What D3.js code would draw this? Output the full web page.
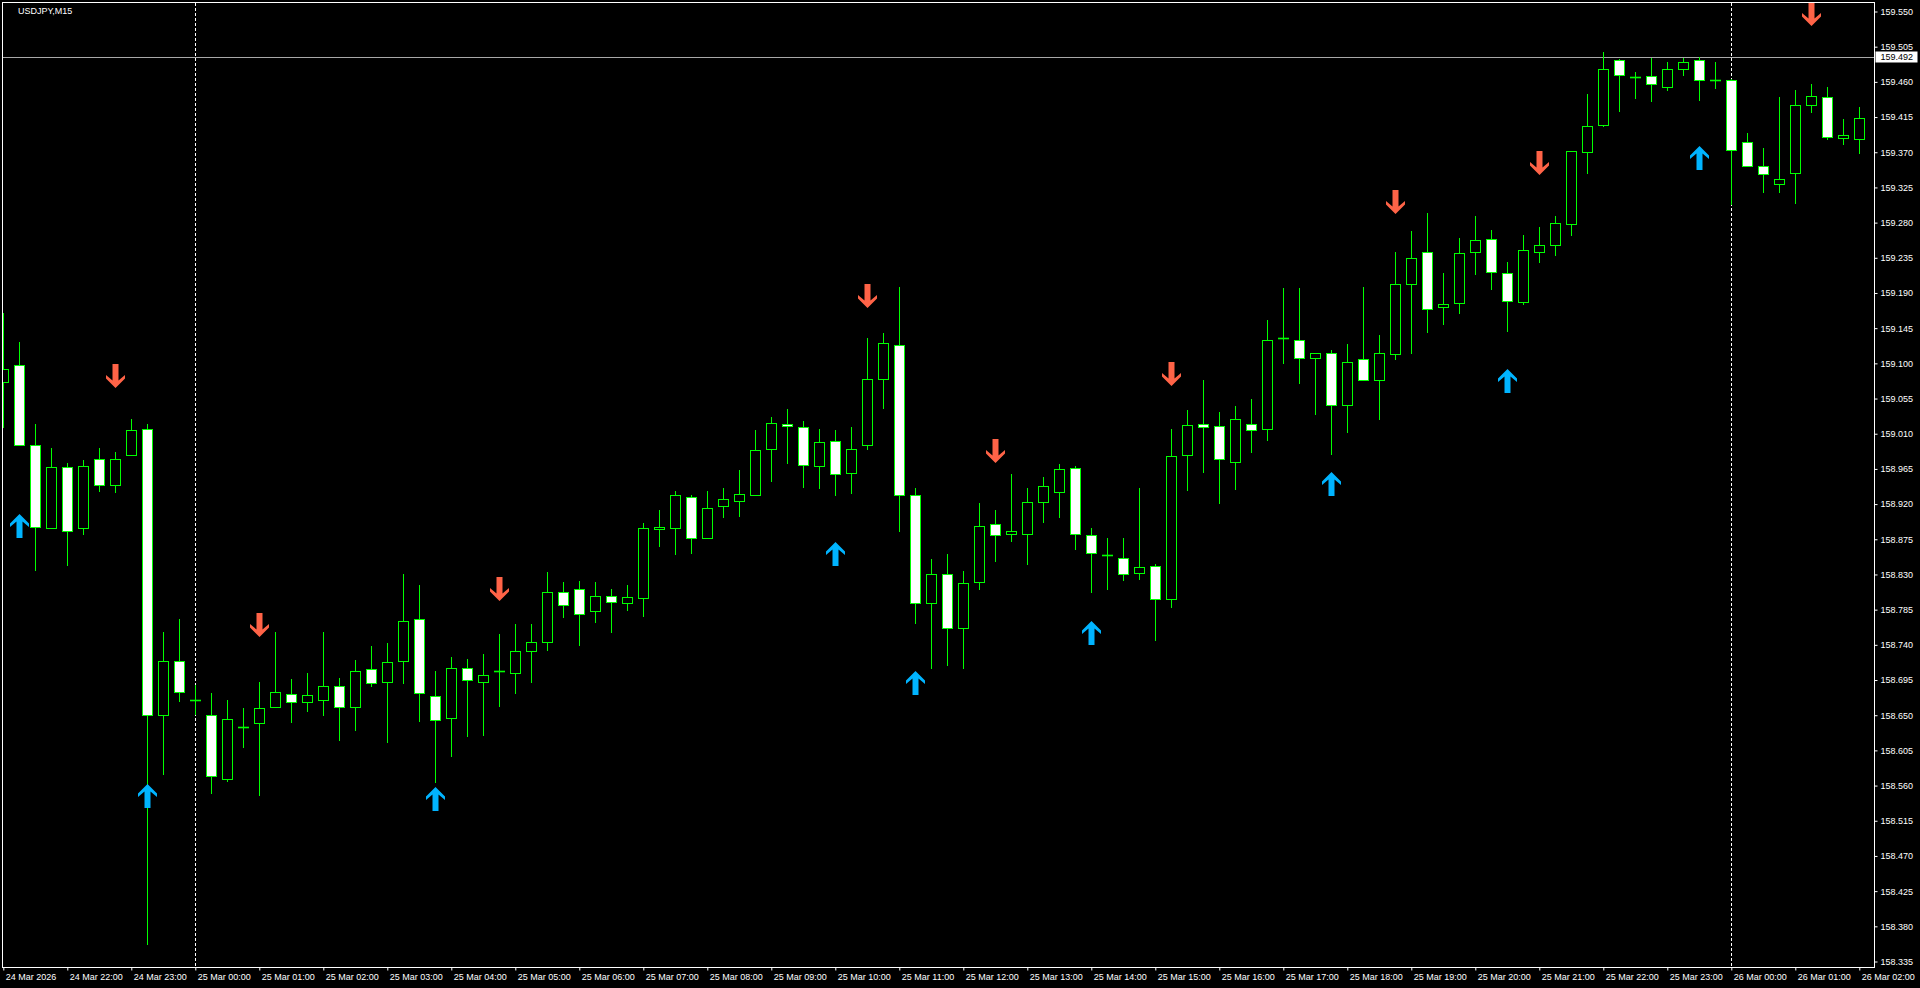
<!DOCTYPE html>
<html><head><meta charset="utf-8">
<script src="https://cdn.jsdelivr.net/npm/d3@7"></script>
<style>
html,body{margin:0;padding:0;background:#000;overflow:hidden;}
svg{display:block;}
text{font-family:"Liberation Sans",Arial,sans-serif;font-size:9px;}
</style></head><body>
<svg id="c" width="1920" height="988"></svg>
<script>
const symbolTitle = "USDJPY,M15";
const startTime = "2026-03-24T21:00:00";
const opens = [159.076,159.098,158.996,158.889,158.968,158.889,158.978,158.945,158.983,159.016,
158.650,158.719,158.669,158.650,158.568,158.635,158.640,158.660,158.677,158.667,
158.669,158.687,158.661,158.709,158.692,158.719,158.773,158.674,158.647,158.711,
158.692,158.706,158.704,158.732,158.743,158.808,158.812,158.783,158.802,158.794,
158.800,158.888,158.890,158.929,158.876,158.917,158.924,158.931,158.990,159.023,
159.019,158.969,159.001,158.960,158.996,159.080,159.124,158.931,158.794,158.831,
158.761,158.821,158.894,158.882,158.882,158.923,158.936,158.966,158.881,158.855,
158.851,158.832,158.841,158.799,158.983,159.022,159.020,158.974,159.023,159.016,
159.132,159.130,159.107,159.113,159.047,159.105,159.079,159.112,159.202,159.243,
159.172,159.177,159.243,159.259,159.216,159.178,159.242,159.252,159.278,159.370,
159.405,159.488,159.466,159.468,159.454,159.476,159.488,159.463,159.463,159.383,
159.353,159.330,159.343,159.431,159.441,159.388,159.387];
const highs = [159.165,159.127,159.023,158.992,158.973,158.976,158.992,158.987,159.029,159.023,
158.757,158.773,158.688,158.678,158.669,158.659,158.693,158.757,158.696,158.704,
158.756,158.698,158.720,158.739,158.742,158.831,158.817,158.707,158.725,158.722,
158.728,158.754,158.767,158.767,158.833,158.820,158.822,158.821,158.812,158.817,
158.896,158.913,158.937,158.932,158.937,158.941,158.964,159.015,159.031,159.041,
159.026,159.016,159.015,159.019,159.133,159.139,159.198,158.941,158.850,158.856,
158.835,158.921,158.912,158.959,158.941,158.955,158.971,158.969,158.890,158.877,
158.877,158.941,158.843,159.016,159.040,159.079,159.038,159.045,159.054,159.156,
159.196,159.197,159.113,159.117,159.125,159.198,159.136,159.242,159.269,159.292,
159.215,159.260,159.288,159.271,159.230,159.264,159.275,159.288,159.372,159.445,
159.498,159.489,159.473,159.490,159.486,159.490,159.492,159.486,159.464,159.395,
159.375,159.441,159.450,159.457,159.454,159.412,159.428];
const lows = [159.018,158.995,158.836,158.889,158.842,158.882,158.937,158.935,158.983,158.358,
158.575,158.668,158.652,158.551,158.566,158.609,158.548,158.660,158.641,158.655,
158.650,158.618,158.631,158.687,158.616,158.691,158.643,158.564,158.598,158.623,
158.625,158.662,158.678,158.692,158.734,158.775,158.740,158.769,158.756,158.784,
158.777,158.866,158.856,158.858,158.876,158.903,158.905,158.931,158.950,158.972,
158.942,158.940,158.931,158.934,158.990,159.043,158.885,158.768,158.711,158.714,
158.711,158.812,158.847,158.873,158.843,158.897,158.903,158.862,158.807,158.812,
158.823,158.824,158.746,158.788,158.938,158.961,158.922,158.939,158.986,159.002,
159.100,159.075,159.035,158.984,159.012,159.079,159.029,159.105,159.113,159.140,
159.150,159.165,159.214,159.195,159.141,159.176,159.229,159.239,159.264,159.344,
159.403,159.423,159.440,159.435,159.449,159.469,159.437,159.452,159.304,159.353,
159.319,159.319,159.305,159.421,159.387,159.380,159.369];
const closes = [159.093,158.996,158.891,158.968,158.885,158.969,158.944,158.978,159.015,158.650,
158.719,158.680,158.669,158.572,158.645,158.635,158.659,158.680,158.667,158.676,
158.687,158.661,158.706,158.691,158.718,158.771,158.678,158.644,158.711,158.695,
158.702,158.706,158.732,158.743,158.807,158.791,158.779,158.803,158.795,158.801,
158.890,158.891,158.931,158.876,158.915,158.927,158.933,158.989,159.024,159.020,
158.970,159.000,158.959,158.991,159.080,159.126,158.932,158.794,158.830,158.762,
158.819,158.892,158.881,158.886,158.923,158.943,158.965,158.882,158.858,158.855,
158.831,158.840,158.799,158.982,159.021,159.019,158.978,159.029,159.015,159.130,
159.132,159.107,159.113,159.047,159.102,159.079,159.113,159.202,159.235,159.169,
159.176,159.241,159.258,159.217,159.180,159.245,159.252,159.280,159.371,159.403,
159.477,159.469,159.466,159.457,159.477,159.486,159.463,159.463,159.373,159.353,
159.342,159.336,159.431,159.442,159.389,159.392,159.414];

const upArrowBars   = [1, 9, 27, 52, 57, 68, 83, 94, 106];
const upArrowPrices = [158.907,158.562,158.558,158.871,158.707,158.770,158.961,159.093,159.378];
const downArrowBars   = [7, 16, 31, 54, 62, 73, 87, 96, 113];
const downArrowPrices = [159.069,158.750,158.796,159.171,158.972,159.071,159.291,159.341,159.532];

const priceTickLabels = ["158.335","158.380","158.425","158.470","158.515","158.560","158.605","158.650",
"158.695","158.740","158.785","158.830","158.875","158.920","158.965","159.010","159.055","159.100",
"159.145","159.190","159.235","159.280","159.325","159.370","159.415","159.460","159.505","159.550"];
const timeTickLabels = ["24 Mar 2026","24 Mar 22:00","24 Mar 23:00","25 Mar 00:00","25 Mar 01:00",
"25 Mar 02:00","25 Mar 03:00","25 Mar 04:00","25 Mar 05:00","25 Mar 06:00","25 Mar 07:00",
"25 Mar 08:00","25 Mar 09:00","25 Mar 10:00","25 Mar 11:00","25 Mar 12:00","25 Mar 13:00",
"25 Mar 14:00","25 Mar 15:00","25 Mar 16:00","25 Mar 17:00","25 Mar 18:00","25 Mar 19:00",
"25 Mar 20:00","25 Mar 21:00","25 Mar 22:00","25 Mar 23:00","26 Mar 00:00","26 Mar 01:00",
"26 Mar 02:00"];
const daySeparatorTimes = ["2026-03-25T00:00:00","2026-03-26T00:00:00"];
const currentPrice = 159.492;

const parse = d3.timeParse("%Y-%m-%dT%H:%M:%S");
const t0 = parse(startTime);
const times = opens.map((_, i) => d3.timeMinute.offset(t0, 15 * i));

const svg = d3.select("#c");
const W = 1920, H = 988;
const plotL = 2.5, plotT = 2.5, plotR = 1874.5, plotB = 967.5;

const x = d3.scaleTime().domain([times[0], times[times.length - 1]]).range([3.3, 1859.3]);
const y = d3.scaleLinear().domain([158.335, 159.550]).range([961.5, 11.5]);

svg.append("rect").attr("width", W).attr("height", H).attr("fill", "#000");

svg.append("defs").append("clipPath").attr("id", "plotclip")
  .append("rect").attr("x", 3).attr("y", 3).attr("width", plotR - 3.5).attr("height", plotB - 3.5);

const plot = svg.append("g").attr("clip-path", "url(#plotclip)");

// day separators
plot.selectAll("line.sep").data(daySeparatorTimes.map(parse)).join("line")
  .attr("class", "sep")
  .attr("x1", d => Math.round(x(d)) + 0.5).attr("x2", d => Math.round(x(d)) + 0.5)
  .attr("y1", 3).attr("y2", plotB)
  .attr("stroke", "#fff").attr("stroke-width", 1).attr("stroke-dasharray", "3,2");

// current price line
const cpY = Math.round(y(currentPrice)) + 0.5;
plot.append("line").attr("x1", 3).attr("x2", plotR).attr("y1", cpY).attr("y2", cpY)
  .attr("stroke", "#a8a8a8").attr("stroke-width", 1);

// candles
const bars = opens.map((o, i) => ({ t: times[i], o, h: highs[i], l: lows[i], c: closes[i] }));
const g = plot.selectAll("g.bar").data(bars).join("g").attr("class", "bar");
g.each(function (d) {
  const sel = d3.select(this);
  const cx = Math.round(x(d.t));
  const yTop = Math.round(y(Math.max(d.o, d.c)));
  const yBot = Math.round(y(Math.min(d.o, d.c)));
  const yH = Math.round(y(d.h)), yL = Math.round(y(d.l));
  sel.append("line").attr("x1", cx + 0.5).attr("x2", cx + 0.5).attr("y1", yH).attr("y2", yL + 1)
    .attr("stroke", "#00ff00").attr("stroke-width", 1);
  if (yBot - yTop < 1) {
    sel.append("line").attr("x1", cx - 5).attr("x2", cx + 6).attr("y1", yTop + 0.5).attr("y2", yTop + 0.5)
      .attr("stroke", "#00ff00").attr("stroke-width", 1.6);
  } else {
    sel.append("rect").attr("x", cx - 4.5).attr("y", yTop + 0.5).attr("width", 10).attr("height", yBot - yTop)
      .attr("fill", d.c < d.o ? "#ffffff" : "#000000")
      .attr("stroke", "#00ff00").attr("stroke-width", 1);
  }
});

// arrows
const upPath = "M0,0 L9.5,9.5 L9.5,13 L3,7.5 L3,24 L-3,24 L-3,7.5 L-9.5,13 L-9.5,9.5 Z";
const downPath = "M0,0 L9.5,-9.5 L9.5,-13 L3,-7.5 L3,-24 L-3,-24 L-3,-7.5 L-9.5,-13 L-9.5,-9.5 Z";
plot.selectAll("path.up").data(upArrowBars.map((b, i) => ({ b, p: upArrowPrices[i] }))).join("path")
  .attr("class", "up").attr("d", upPath)
  .attr("transform", d => `translate(${Math.round(x(times[d.b])) + 0.5},${Math.round(y(d.p))})`)
  .attr("fill", "#00b4ff");
plot.selectAll("path.down").data(downArrowBars.map((b, i) => ({ b, p: downArrowPrices[i] }))).join("path")
  .attr("class", "down").attr("d", downPath)
  .attr("transform", d => `translate(${Math.round(x(times[d.b])) + 0.5},${Math.round(y(d.p))})`)
  .attr("fill", "#ff6347");

// border
svg.append("rect").attr("x", plotL).attr("y", plotT).attr("width", plotR - plotL).attr("height", plotB - plotT)
  .attr("fill", "none").attr("stroke", "#fff").attr("stroke-width", 1);

// price axis
const yAxis = d3.axisRight(y).tickValues(priceTickLabels.map(Number))
  .tickFormat((d, i) => priceTickLabels[i]).tickSize(3).tickPadding(3);
const ya = svg.append("g").attr("transform", `translate(${plotR},0)`).call(yAxis);
ya.select(".domain").remove();
ya.selectAll(".tick line").attr("stroke", "#fff");
ya.selectAll(".tick text").attr("fill", "#fff").style("font-family", '"Liberation Sans",Arial,sans-serif').style("font-size", "9px");

// time axis
const tickTimes = times.filter((_, i) => i % 4 === 0);
const xAxis = d3.axisBottom(x).tickValues(tickTimes)
  .tickFormat((d, i) => timeTickLabels[i]).tickSize(3).tickPadding(3);
const xa = svg.append("g").attr("transform", `translate(0,${plotB})`).call(xAxis);
xa.select(".domain").remove();
xa.selectAll(".tick line").attr("stroke", "#fff");
xa.selectAll(".tick text").attr("fill", "#fff").attr("text-anchor", "start").attr("x", 2)
  .style("font-family", '"Liberation Sans",Arial,sans-serif').style("font-size", "9px");

// current price label
svg.append("rect").attr("x", plotR + 1).attr("y", cpY - 6).attr("width", 42).attr("height", 11).attr("fill", "#fff");
svg.append("text").attr("x", plotR + 6).attr("y", cpY).attr("dy", "0.33em").attr("fill", "#000")
  .text(d3.format(".3f")(currentPrice));

// title
svg.append("text").attr("x", 18).attr("y", 14).attr("fill", "#fff").text(symbolTitle);
</script>
</body></html>
